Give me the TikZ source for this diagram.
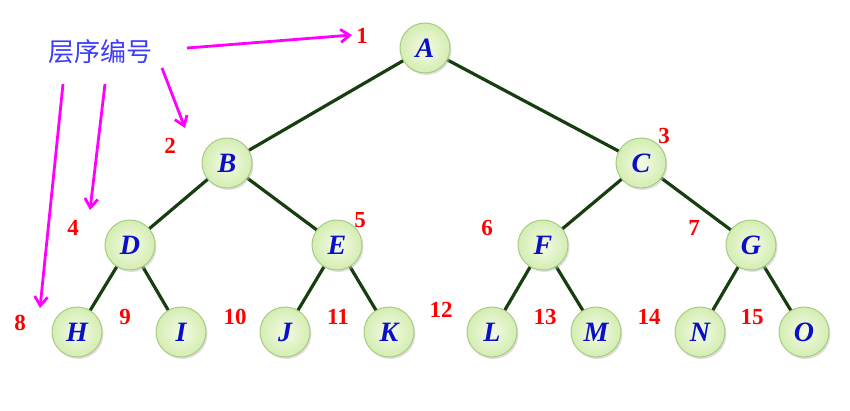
\documentclass[tikz,border=0pt]{standalone}
\usepackage{fontspec}
\setmainfont{Liberation Serif}
\newfontfamily\cjk{Noto Sans CJK SC}
\usetikzlibrary{shadows,arrows.meta}
\definecolor{nodefill}{HTML}{D4EDB2}
\definecolor{nodein}{HTML}{F4FBE6}
\definecolor{nodeline}{HTML}{A6CC82}
\definecolor{edgecol}{HTML}{163E0E}
\definecolor{lettercol}{HTML}{0A10C8}
\definecolor{arrcol}{HTML}{FF00FF}
\definecolor{labelcol}{HTML}{3C3CFF}
\tikzset{
  tnode/.style={circle, minimum size=50pt, inner sep=0pt, draw=nodeline, line width=1pt,
    inner color=nodein, outer color=nodefill,
    drop shadow={shadow xshift=1.5pt, shadow yshift=-2pt, fill=black!25, opacity=0.5},
    font=\fontsize{28}{28}\selectfont\bfseries\itshape, text=lettercol},
  edge/.style={draw=edgecol, line width=3.2pt},
  num/.style={font=\fontsize{23}{23}\selectfont\bfseries, text=red, inner sep=0pt},
  parr/.style={draw=arrcol, line width=2.8pt, -{Straight Barb[length=9pt,width=13pt,line width=2.8pt]}}
}
\begin{document}
\begin{tikzpicture}[x=1pt,y=-1pt]
\useasboundingbox (0,0) rectangle (850,411);
\coordinate (pA) at (425,48);
\coordinate (pB) at (227,163);
\coordinate (pC) at (641,163);
\coordinate (pD) at (130,245);
\coordinate (pE) at (337,245);
\coordinate (pF) at (543,245);
\coordinate (pG) at (751,245);
\coordinate (pH) at (77,332);
\coordinate (pI) at (181,332);
\coordinate (pJ) at (285,332);
\coordinate (pK) at (389,332);
\coordinate (pL) at (492,332);
\coordinate (pM) at (596,332);
\coordinate (pN) at (700,332);
\coordinate (pO) at (804,332);
\foreach \a/\b in {A/B,A/C,B/D,B/E,C/F,C/G,D/H,D/I,E/J,E/K,F/L,F/M,G/N,G/O}
  \draw[edge] (p\a) -- (p\b);
\foreach \n in {A,B,C,D,E,F,G,H,I,J,K,L,M,N,O}
  \node[tnode] (\n) at (p\n) {\n};
% numbers
\node[num] (n1) at (362,36) {1};
\node[num] (n2) at (170,146) {2};
\node[num] (n3) at (664,136) {3};
\node[num] (n4) at (73,228) {4};
\node[num] (n5) at (360,220) {5};
\node[num] (n6) at (487,228) {6};
\node[num] (n7) at (694,228) {7};
\node[num] (n8) at (20,323) {8};
\node[num] (n9) at (125,317) {9};
\node[num] (n10) at (235,317) {10};
\node[num] (n11) at (338,317) {11};
\node[num] (n12) at (441,310) {12};
\node[num] (n13) at (545,317) {13};
\node[num] (n14) at (649,317) {14};
\node[num] (n15) at (752,317) {15};
% label
\node[font=\cjk\fontsize{26}{26}\selectfont, text=labelcol, inner sep=0pt] (lbl) at (100,52) {层序编号};
\coordinate (t1) at (352,35);
\coordinate (t2) at (185,128);
\coordinate (t3) at (90,210);
\coordinate (t4) at (40,308);
\draw[parr] (187,48) -- (t1);
\draw[parr] (162,68) -- (t2);
\draw[parr] (105,84) -- (t3);
\draw[parr] (63,84) -- (t4);
\end{tikzpicture}
\end{document}
